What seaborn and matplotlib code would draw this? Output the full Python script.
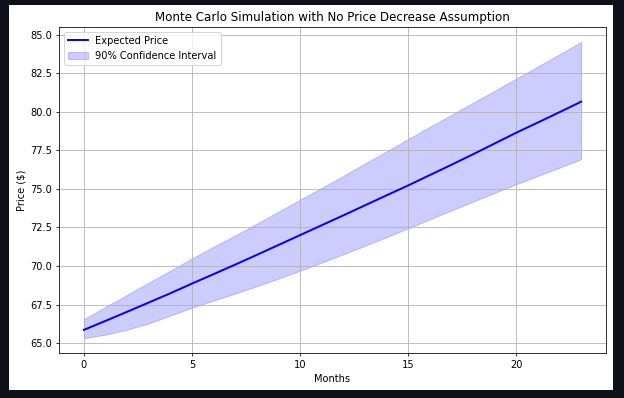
import pandas as pd
import seaborn as sns
import matplotlib.pyplot as plt
from matplotlib.patches import Rectangle

# Values
months = list(range(24))
expected_price = [65.86, 66.44, 67.03, 67.63, 68.23, 68.86, 69.47, 70.09, 70.72, 71.36,
                  72.00, 72.64, 73.28, 73.93, 74.58, 75.22, 75.89, 76.56, 77.24, 77.94,
                  78.64, 79.30, 79.97, 80.65]
upper_bound = [66.55, 67.35, 68.13, 68.92, 69.70, 70.49, 71.25, 71.98, 72.75, 73.52,
               74.30, 75.06, 75.84, 76.64, 77.43, 78.23, 79.02, 79.80, 80.58, 81.36,
               82.15, 82.93, 83.72, 84.53]
lower_bound = [65.32, 65.55, 65.87, 66.28, 66.78, 67.30, 67.76, 68.21, 68.69, 69.18,
               69.69, 70.22, 70.76, 71.31, 71.87, 72.44, 73.02, 73.60, 74.17, 74.74,
               75.30, 75.84, 76.38, 76.92]

df = pd.DataFrame({"Month": months, "Expected": expected_price,
                   "Upper": upper_bound, "Lower": lower_bound})

DPI = 71
fig = plt.figure(figsize=(624 / DPI, 398 / DPI), dpi=DPI, facecolor='#0e1117')
# white panel inside the dark frame
fig.patches.append(Rectangle((9 / 624, 1 - 390 / 398), 604 / 624, 385 / 398,
                             transform=fig.transFigure, facecolor='white',
                             edgecolor='none', zorder=-10))
ax = fig.add_axes([59 / 624, 1 - 353 / 398, 547 / 624, 326 / 398])

sns.lineplot(data=df, x="Month", y="Expected", color='blue', linewidth=2,
             label='Expected Price', ax=ax)
ax.fill_between(df["Month"], df["Lower"], df["Upper"], color='blue', alpha=0.2,
                label='90% Confidence Interval')

ax.set_title('Monte Carlo Simulation with No Price Decrease Assumption')
ax.set_xlabel('Months')
ax.set_ylabel('Price ($)')
ax.grid(True)
ax.legend(loc='upper left')

fig.savefig('out.png', dpi=DPI, facecolor=fig.get_facecolor())
